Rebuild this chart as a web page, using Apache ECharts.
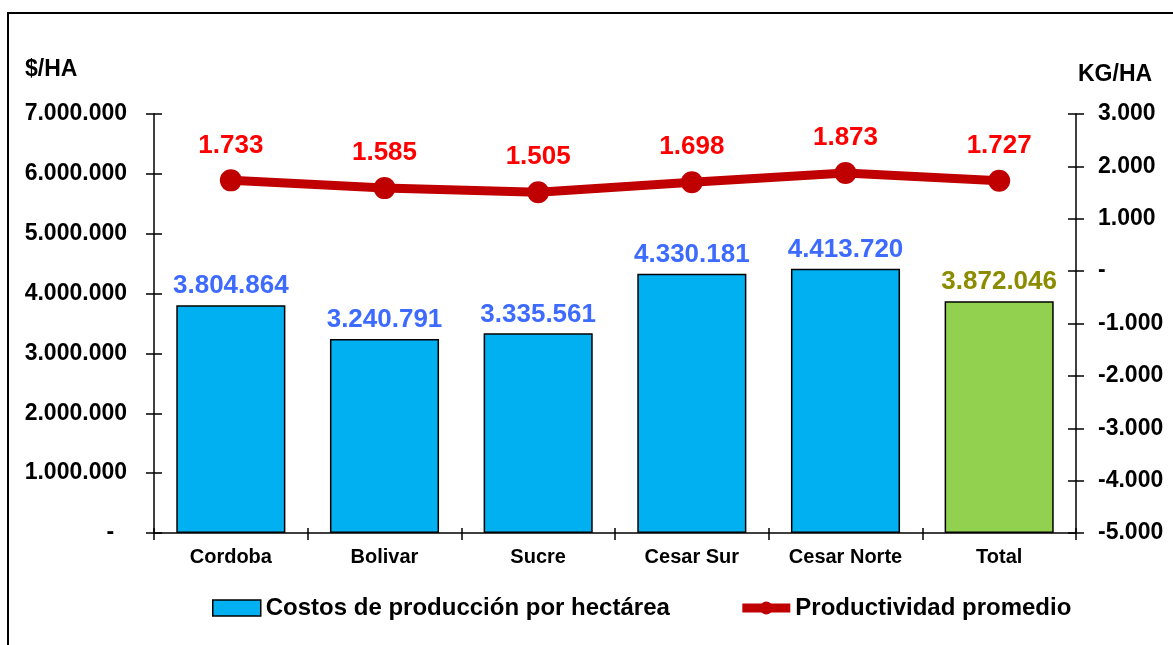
<!DOCTYPE html>
<html>
<head>
<meta charset="utf-8">
<script src="https://cdn.jsdelivr.net/npm/echarts@6/dist/echarts.min.js"></script>
<style>
html,body{margin:0;padding:0;background:#fff;}
#chart{width:1173px;height:645px;}
</style>
</head>
<body>
<div id="chart"></div>
<script>
var categories = ['Cordoba', 'Bolivar', 'Sucre', 'Cesar Sur', 'Cesar Norte', 'Total'];
var costos = [3804864, 3240791, 3335561, 4330181, 4413720, 3872046];
var productividad = [1733, 1585, 1505, 1698, 1873, 1727];
var seriesNames = ['Costos de producción por hectárea', 'Productividad promedio'];

function fmt(v) {
  var neg = v < 0;
  var s = Math.round(Math.abs(v)).toString().replace(/\B(?=(\d{3})+(?!\d))/g, '.');
  return (neg ? '-' : '') + s;
}

var FONT = 'Liberation Sans, Arial, sans-serif';
var chart = echarts.init(document.getElementById('chart'));

var barData = costos.map(function (v, i) {
  var last = i === costos.length - 1;
  return {
    value: v,
    itemStyle: { color: last ? '#92D050' : '#00B0F0' },
    label: { color: last ? '#8C8C00' : '#3D6BFF' }
  };
});

chart.setOption({
  backgroundColor: '#fff',
  animation: false,
  textStyle: { fontFamily: FONT },
  grid: { left: 154, right: 97, top: 114, bottom: 112 },
  graphic: [
    { type: 'rect', shape: { x: 8, y: 13, width: 1300, height: 800 }, style: { fill: 'none', stroke: '#000', lineWidth: 2 } },
    { type: 'text', left: 25, top: 58, style: { text: '$/HA', font: 'bold 23px ' + FONT, fill: '#000' } },
    { type: 'text', left: 1078, top: 63, style: { text: 'KG/HA', font: 'bold 23px ' + FONT, fill: '#000' } }
  ],
  legend: {
    left: 207, top: 591,
    itemWidth: 48, itemHeight: 16, itemGap: 68,
    textStyle: { fontFamily: FONT, fontSize: 24, fontWeight: 'bold', color: '#000' },
    data: [
      { name: seriesNames[0], icon: 'rect', itemStyle: { color: '#00B0F0', borderColor: '#000', borderWidth: 1.5 } },
      { name: seriesNames[1], itemStyle: { color: '#C00000' }, lineStyle: { color: '#C00000', width: 9 } }
    ]
  },
  xAxis: [
    {
      type: 'category', data: categories, position: 'bottom',
      axisLine: { onZero: false, lineStyle: { color: '#000', width: 1.5 } },
      axisTick: { show: true, inside: false, length: 7, lineStyle: { color: '#000', width: 1.5 } },
      axisLabel: { color: '#000', fontFamily: FONT, fontSize: 20, fontWeight: 'bold', margin: 14 },
      splitLine: { show: false }
    },
    {
      type: 'category', data: categories, position: 'bottom',
      axisLine: { show: false, onZero: false },
      axisTick: { show: true, inside: true, length: 5, lineStyle: { color: '#000', width: 1.5 } },
      axisLabel: { show: false },
      splitLine: { show: false }
    }
  ],
  yAxis: [
    {
      type: 'value', position: 'left', min: 0, max: 7000000, interval: 1000000,
      axisLine: { show: true, lineStyle: { color: '#000', width: 1.5 } },
      axisTick: { show: true, inside: false, length: 8, lineStyle: { color: '#000', width: 1.5 } },
      axisLabel: { color: '#000', fontFamily: FONT, fontSize: 23, fontWeight: 'bold', margin: 27,
        formatter: function (v) { return v === 0 ? '-  ' : fmt(v); } },
      splitLine: { show: false }
    },
    {
      type: 'value', position: 'right', min: -5000, max: 3000, interval: 1000,
      axisLine: { show: true, lineStyle: { color: '#000', width: 1.5 } },
      axisTick: { show: true, inside: false, length: 8, lineStyle: { color: '#000', width: 1.5 } },
      axisLabel: { color: '#000', fontFamily: FONT, fontSize: 23, fontWeight: 'bold', margin: 22,
        formatter: function (v) { return v === 0 ? '-' : fmt(v); } },
      splitLine: { show: false }
    },
    {
      type: 'value', position: 'left', min: 0, max: 7000000, interval: 1000000,
      axisLine: { show: false },
      axisTick: { show: true, inside: true, length: 8, lineStyle: { color: '#000', width: 1.5 } },
      axisLabel: { show: false }, splitLine: { show: false }
    },
    {
      type: 'value', position: 'right', min: -5000, max: 3000, interval: 1000,
      axisLine: { show: false },
      axisTick: { show: true, inside: true, length: 8, lineStyle: { color: '#000', width: 1.5 } },
      axisLabel: { show: false }, splitLine: { show: false }
    }
  ],
  series: [
    {
      name: seriesNames[0], type: 'bar', xAxisIndex: 0, yAxisIndex: 0,
      barWidth: '71%',
      data: barData,
      itemStyle: { color: '#00B0F0', borderColor: '#000', borderWidth: 1.5 },
      label: { show: true, position: 'top', distance: 6, fontFamily: FONT, fontSize: 26, fontWeight: 'bold',
        formatter: function (p) { return fmt(p.value); } }
    },
    {
      name: seriesNames[1], type: 'line', xAxisIndex: 0, yAxisIndex: 1,
      data: productividad,
      symbol: 'circle', symbolSize: 22,
      lineStyle: { color: '#C00000', width: 9 },
      itemStyle: { color: '#C00000' },
      label: { show: true, position: 'top', distance: 11, color: '#FF0000', fontFamily: FONT, fontSize: 26, fontWeight: 'bold',
        formatter: function (p) { return fmt(p.value); } },
      z: 5
    }
  ]
});
</script>
</body>
</html>
